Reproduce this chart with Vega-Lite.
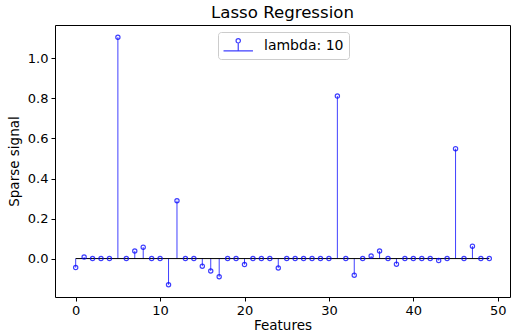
{
  "$schema": "https://vega.github.io/schema/vega-lite/v6.json",
  "autosize": {"type": "none"},
  "width": 455,
  "height": 272,
  "padding": {"left": 55, "top": 25, "right": 1, "bottom": 35},
  "title": {"text": "Lasso Regression", "font": "DejaVu Sans", "fontSize": 16.6, "fontWeight": "normal", "color": "#000000", "offset": 3},
  "config": {
    "view": {"stroke": "#000000", "strokeWidth": 1},
    "font": "DejaVu Sans",
    "axis": {"domain": false, "grid": false, "tickColor": "#000000", "tickSize": 4, "labelFont": "DejaVu Sans", "labelFontSize": 13, "labelColor": "#000000", "titleFont": "DejaVu Sans", "titleFontSize": 13.5, "titleFontWeight": "normal", "titleColor": "#000000", "labelPadding": 3}
  },
  "data": {"values": [
    {"feature": 0, "value": -0.045}, {"feature": 1, "value": 0.008}, {"feature": 2, "value": 0}, {"feature": 3, "value": 0}, {"feature": 4, "value": 0},
    {"feature": 5, "value": 1.106}, {"feature": 6, "value": 0}, {"feature": 7, "value": 0.038}, {"feature": 8, "value": 0.057}, {"feature": 9, "value": 0},
    {"feature": 10, "value": 0}, {"feature": 11, "value": -0.131}, {"feature": 12, "value": 0.289}, {"feature": 13, "value": 0}, {"feature": 14, "value": 0},
    {"feature": 15, "value": -0.038}, {"feature": 16, "value": -0.062}, {"feature": 17, "value": -0.091}, {"feature": 18, "value": 0}, {"feature": 19, "value": 0},
    {"feature": 20, "value": -0.03}, {"feature": 21, "value": 0}, {"feature": 22, "value": 0}, {"feature": 23, "value": 0}, {"feature": 24, "value": -0.047},
    {"feature": 25, "value": 0}, {"feature": 26, "value": 0}, {"feature": 27, "value": 0}, {"feature": 28, "value": 0}, {"feature": 29, "value": 0},
    {"feature": 30, "value": 0}, {"feature": 31, "value": 0.812}, {"feature": 32, "value": 0}, {"feature": 33, "value": -0.083}, {"feature": 34, "value": 0},
    {"feature": 35, "value": 0.013}, {"feature": 36, "value": 0.038}, {"feature": 37, "value": 0}, {"feature": 38, "value": -0.028}, {"feature": 39, "value": 0},
    {"feature": 40, "value": 0}, {"feature": 41, "value": 0}, {"feature": 42, "value": 0}, {"feature": 43, "value": -0.01}, {"feature": 44, "value": 0},
    {"feature": 45, "value": 0.549}, {"feature": 46, "value": 0}, {"feature": 47, "value": 0.062}, {"feature": 48, "value": 0}, {"feature": 49, "value": 0}
  ]},
  "layer": [
    {
      "mark": {"type": "rule", "strokeWidth": 1, "opacity": 0.75},
      "encoding": {
        "x": {"field": "feature", "type": "quantitative", "scale": {"domain": [-2.45, 51.45], "nice": false, "zero": false}, "axis": {"values": [0, 10, 20, 30, 40, 50], "title": "Features", "titlePadding": 1}},
        "y": {"field": "value", "type": "quantitative", "scale": {"domain": [-0.192, 1.167], "nice": false}, "axis": {"values": [0, 0.2, 0.4, 0.6, 0.8, 1.0], "format": ".1f", "title": "Sparse signal", "titlePadding": 6}},
        "y2": {"datum": 0},
        "color": {"datum": "lambda: 10", "scale": {"range": ["#0000ff"]}, "legend": {"title": null, "orient": "none", "legendX": 163, "legendY": 7, "labelFont": "DejaVu Sans", "labelFontSize": 14, "labelColor": "#000000", "symbolType": "M -1.03 0.7 L 2.77 0.7 M 0.87 0.7 L 0.87 -0.32 M 1.15 -0.6 A 0.28 0.28 0 1 1 0.59 -0.6 A 0.28 0.28 0 1 1 1.15 -0.6", "symbolSize": 240, "symbolStrokeWidth": 1.2, "symbolFillColor": "transparent", "symbolStrokeColor": "#0000cc", "strokeColor": "#cccccc", "fillColor": "#ffffff", "padding": 5, "cornerRadius": 3, "labelOffset": 24}}
      }
    },
    {
      "mark": {"type": "rule", "color": "#000000", "strokeWidth": 1},
      "encoding": {
        "x": {"aggregate": "min", "field": "feature", "type": "quantitative"},
        "x2": {"aggregate": "max", "field": "feature"},
        "y": {"datum": 0}
      }
    },
    {
      "mark": {"type": "point", "shape": "circle", "filled": false, "color": "#0000ff", "opacity": 0.75, "size": 18, "strokeWidth": 1.2},
      "encoding": {
        "x": {"field": "feature", "type": "quantitative"},
        "y": {"field": "value", "type": "quantitative"}
      }
    }
  ]
}
